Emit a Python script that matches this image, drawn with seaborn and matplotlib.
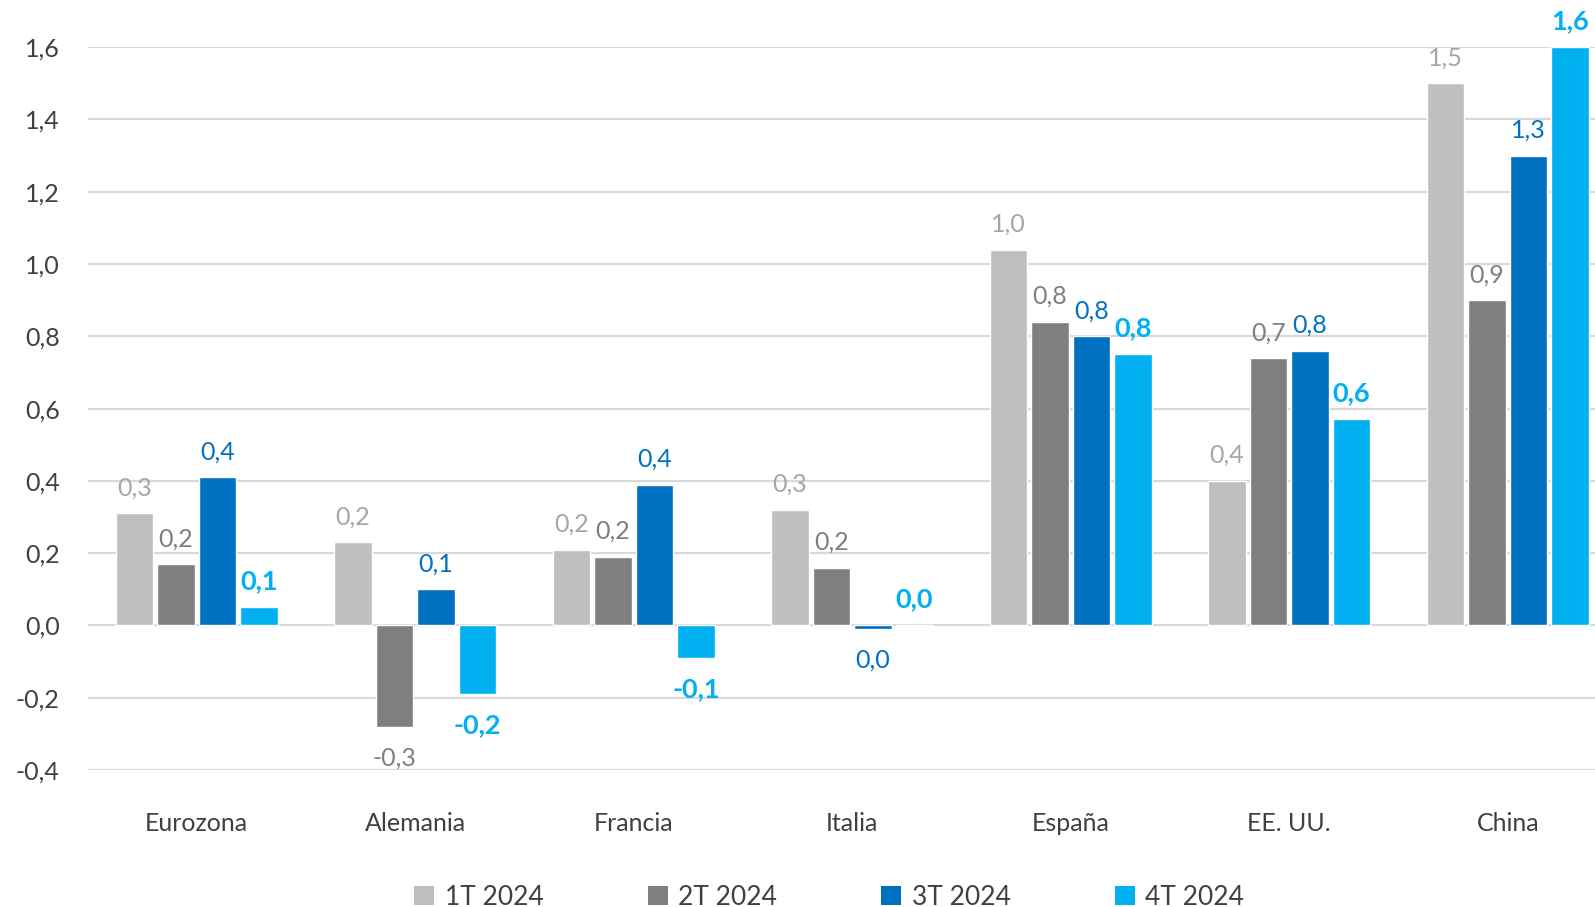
import matplotlib
matplotlib.use("Agg")
import matplotlib.pyplot as plt
import seaborn as sns
import pandas as pd
from matplotlib.patches import Patch

categories = ["Eurozona", "Alemania", "Francia", "Italia", "España", "EE. UU.", "China"]
series_names = ["1T 2024", "2T 2024", "3T 2024", "4T 2024"]
q1 = [0.31, 0.23, 0.21, 0.32, 1.04, 0.40, 1.50]
q2 = [0.17, -0.28, 0.19, 0.16, 0.84, 0.74, 0.90]
q3 = [0.41, 0.10, 0.39, -0.01, 0.80, 0.76, 1.30]
q4 = [0.05, -0.19, -0.09, 0.00, 0.75, 0.57, 1.60]
yticks = [-0.4, -0.2, 0.0, 0.2, 0.4, 0.6, 0.8, 1.0, 1.2, 1.4, 1.6]

bar_colors = ["#BFBFBF", "#7F7F7F", "#0070C0", "#00B0F0"]
label_colors = ["#A6A6A6", "#7F7F7F", "#0070C0", "#00B0F0"]
label_weights = ["normal", "normal", "normal", "bold"]
label_sizes = [18, 18, 18, 19.5]

rows = []
for name, vals in zip(series_names, [q1, q2, q3, q4]):
    for c, v in zip(categories, vals):
        rows.append({"pais": c, "trimestre": name, "valor": v})
df = pd.DataFrame(rows)

sns.set_theme(style="white")
plt.rcParams["font.family"] = ["Lato", "DejaVu Sans"]

fig = plt.figure(figsize=(15.95, 9.07), dpi=100)
left = 87.5 / 1595
right = 1617 / 1595
ax = fig.add_axes([left, 0.151, right - left, 0.797])

sns.barplot(data=df, x="pais", y="valor", hue="trimestre", order=categories,
            hue_order=series_names, palette=bar_colors, width=0.76, gap=0.1,
            saturation=1, errorbar=None, legend=False, ax=ax, zorder=3)

def fmt(v):
    r = round(v, 1)
    if abs(r) < 0.05:
        r = 0.0
    return f"{r:.1f}".replace(".", ",")

for i, cont in enumerate(ax.containers):
    vals = [q1, q2, q3, q4][i]
    pos = [fmt(v) if v >= 0 else "" for v in vals]
    neg = [fmt(v) if v < 0 else "" for v in vals]
    kw = dict(color=label_colors[i], fontsize=label_sizes[i], fontweight=label_weights[i])
    ax.bar_label(cont, labels=pos, padding=10, **kw)
    ax.bar_label(cont, labels=neg, padding=14, **kw)

ax.set_ylim(-0.4, 1.6)
ax.set_xlim(-0.5, len(categories) - 0.5)
ax.set_yticks(yticks)
ax.set_yticklabels([f"{t:.1f}".replace(".", ",") for t in yticks])
ax.yaxis.grid(True, color="#D9D9D9", linewidth=1.6, zorder=0)
ax.set_axisbelow(True)
for s in ax.spines.values():
    s.set_visible(False)
ax.tick_params(axis="y", length=0, pad=20, labelsize=18, labelcolor="#404040")
ax.tick_params(axis="x", length=0, pad=30, labelsize=18, labelcolor="#404040")
ax.set_xlabel("")
ax.set_ylabel("")

handles = [Patch(facecolor=c, edgecolor="none") for c in bar_colors]
fig.legend(handles, series_names, loc="center", bbox_to_anchor=(0.52, 0.011),
           ncol=4, frameon=False, fontsize=19, handlelength=0.75, handleheight=0.75,
           handletextpad=0.4, columnspacing=3.95, labelcolor="#404040")

fig.savefig("out.png", dpi=100)
